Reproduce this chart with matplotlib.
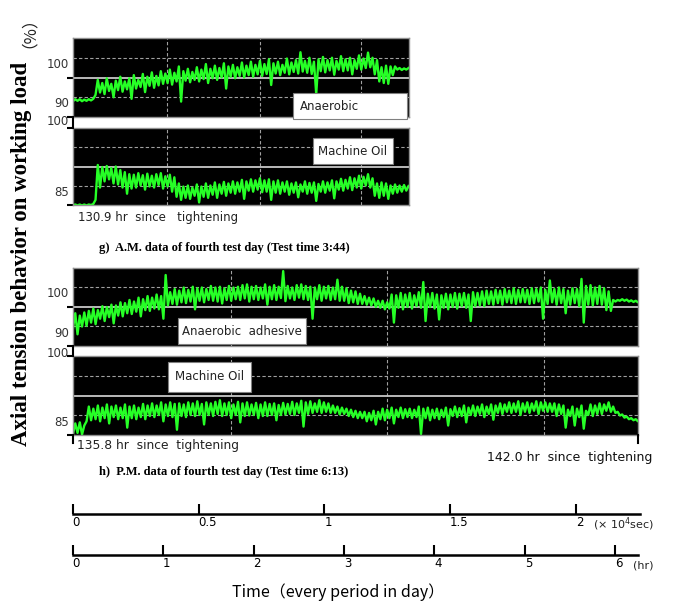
import matplotlib.pyplot as plt
import numpy as np
from matplotlib.patches import Rectangle
from matplotlib.lines import Line2D

W, H = 678, 603
dt = 0.05  # hr between read-off samples

# A.M. (g), % of working load: upper / lower edge of the noisy trace
g_anaerobic_hi = [94.5, 94.5, 94.4, 94.5, 94.6,
                  99.4, 98.6, 99.8, 98.4, 99.2, 100.2, 99.0, 99.8, 100.6, 99.4, 100.9, 100.2, 101.3, 100.4, 101.6, 101.0,
                  102.0, 101.2, 102.8, 101.6, 102.2, 101.4, 102.6, 102.0, 103.4, 102.2, 103.0, 102.4, 103.6, 102.8, 103.2, 102.6, 103.8, 103.0, 104.0, 103.2,
                  104.2, 103.4, 104.6, 103.6, 104.0, 103.2, 104.8, 103.8, 104.4, 106.4, 104.2, 105.0, 104.0, 104.6, 105.2, 104.4, 105.0, 104.2, 105.4, 104.6,
                  105.0, 104.4, 105.6, 104.8, 106.3, 105.0, 104.4, 102.6, 103.0, 102.8, 102.8, 102.4, 102.3, 102.4]
g_anaerobic_lo = [94.0, 94.1, 94.0, 94.1, 94.2,
                  95.6, 96.2, 95.8, 96.6, 95.0, 96.8, 96.4, 97.0, 94.6, 97.2, 97.6, 96.3, 97.9, 97.4, 98.0, 98.4,
                  98.6, 98.2, 99.0, 93.9, 99.2, 98.8, 99.4, 99.0, 99.6, 98.6, 99.8, 99.4, 100.0, 97.2, 100.2, 99.8, 100.4, 100.0, 100.6, 100.2,
                  100.8, 100.4, 100.9, 98.1, 101.0, 100.6, 101.2, 100.8, 101.4, 101.0, 101.5, 101.2, 100.9, 95.8, 101.6, 101.3, 101.8, 100.7, 102.0, 101.6,
                  101.8, 100.8, 102.2, 102.0, 102.4, 102.6, 100.8, 99.0, 98.6, 98.4, 100.6, 102.0, 101.9, 102.0]
g_oil_hi = [85.1, 85.1, 85.1, 85.1, 85.2,
            92.8, 92.4, 92.6, 92.2, 92.5, 91.8, 91.4, 91.0, 90.9, 91.2, 90.8, 91.1, 90.7, 91.0, 91.2, 90.6,
            90.9, 90.4, 89.2, 88.6, 88.8, 88.4, 89.0, 88.6, 89.2, 88.8, 89.4, 89.0, 89.5, 89.2, 89.6, 89.4, 89.9, 89.6, 90.0, 89.8,
            90.2, 89.8, 90.0, 89.6, 89.8, 89.4, 89.6, 89.2, 89.4, 89.0, 89.6, 89.3, 89.4, 89.1, 89.6, 89.4, 89.8, 89.6, 90.1, 89.9,
            90.4, 90.2, 90.7, 90.5, 91.0, 90.2, 89.2, 89.4, 89.2, 88.8, 89.0, 88.8, 88.9, 88.7]
g_oil_lo = [84.9, 84.9, 84.9, 84.9, 85.0,
            86.0, 88.4, 89.6, 90.0, 89.2, 89.0, 88.4, 87.2, 88.2, 88.4, 88.8, 88.0, 88.6, 88.4, 88.9, 88.2,
            88.6, 87.6, 86.6, 86.0, 86.4, 86.2, 86.8, 85.5, 86.6, 86.4, 87.0, 86.4, 87.2, 86.8, 87.4, 87.2, 87.6, 86.2, 87.8, 87.6,
            88.0, 87.5, 87.6, 86.0, 87.4, 87.2, 87.6, 87.0, 87.4, 86.5, 87.6, 87.2, 87.4, 85.8, 87.6, 87.4, 87.8, 86.3, 88.0, 87.8,
            88.2, 87.9, 88.4, 88.2, 88.8, 88.4, 86.8, 86.4, 86.8, 86.2, 87.2, 87.4, 87.6, 87.8]

# P.M. (h)
h_anaerobic_hi = [98.4, 97.8, 98.6, 99.0, 99.6, 99.2, 100.2, 100.0, 100.6, 100.4, 101.2, 101.0, 101.8, 101.4, 102.4, 102.0, 102.8, 102.4, 103.2, 102.8,
                  108.2, 103.8, 104.6, 104.2, 105.0, 104.4, 105.2, 104.8, 105.0, 104.6, 105.4, 105.0, 105.2, 104.8, 105.4, 105.0, 105.2, 105.6, 105.8, 105.2,
                  105.4, 105.0, 105.8, 105.2, 105.6, 105.2, 109.2, 105.4, 105.0, 105.6, 105.8, 105.4, 105.2, 105.0, 105.6, 105.2, 105.4, 105.0, 107.0, 105.2,
                  104.8, 104.2, 104.0, 103.4, 102.8, 102.4, 102.2, 101.6, 101.6, 101.2, 103.2, 103.0, 103.6, 103.2, 103.6, 103.0, 103.8, 106.4, 103.4, 103.6,
                  103.2, 103.0, 103.4, 103.2, 103.6, 103.4, 103.6, 103.2, 103.8, 103.6, 104.0, 104.2, 104.0, 104.4, 104.2, 104.6, 104.2, 104.8, 104.4, 104.6,
                  104.4, 104.8, 104.6, 105.0, 104.4, 106.8, 104.6, 105.0, 104.6, 104.2, 104.8, 104.6, 107.2, 105.4, 105.6, 105.0, 105.4, 104.8, 104.0, 101.8,
                  101.8, 102.0, 101.9, 101.7, 101.6, 101.5]
h_anaerobic_lo = [94.6, 93.0, 95.0, 95.2, 96.0, 95.6, 97.0, 96.4, 97.4, 95.8, 97.8, 97.6, 98.4, 98.2, 98.8, 97.6, 99.2, 99.0, 99.6, 99.4,
                  97.0, 100.4, 100.8, 100.6, 101.2, 101.0, 101.4, 99.4, 101.6, 101.2, 101.8, 101.6, 101.4, 100.9, 101.8, 101.6, 102.0, 101.8, 102.2, 101.4,
                  102.0, 101.8, 102.2, 100.6, 102.0, 101.8, 102.3, 101.5, 102.2, 101.8, 102.4, 102.0, 101.8, 97.0, 102.0, 101.6, 102.2, 101.8, 102.0, 101.6,
                  101.6, 101.0, 101.2, 100.8, 100.8, 100.6, 100.4, 100.0, 99.8, 99.4, 99.6, 96.0, 99.8, 99.4, 100.0, 99.6, 100.2, 99.8, 96.4, 100.0,
                  99.6, 96.8, 99.8, 99.4, 100.0, 99.6, 100.2, 99.8, 96.4, 100.2, 100.4, 100.2, 100.8, 100.6, 101.0, 100.6, 101.2, 101.0, 100.8, 101.2,
                  101.2, 100.8, 101.0, 101.4, 97.0, 100.8, 101.2, 100.6, 101.0, 98.4, 100.6, 101.0, 100.2, 96.0, 100.6, 100.4, 100.8, 100.6, 99.2, 99.0,
                  101.4, 101.6, 101.6, 101.4, 101.3, 101.2]
h_oil_hi = [87.2, 87.4, 86.8, 90.4, 90.0, 90.6, 90.2, 90.8, 90.4, 90.6, 90.2, 90.8, 90.4, 90.6, 90.2, 90.9, 90.6, 91.0, 90.6, 91.2,
            90.8, 91.2, 90.9, 91.0, 90.8, 91.2, 91.0, 91.4, 90.9, 91.2, 91.0, 91.3, 91.6, 91.0, 91.2, 90.8, 91.3, 91.0, 91.2, 90.8,
            91.1, 90.8, 91.2, 90.9, 91.0, 90.7, 91.1, 90.9, 91.3, 91.0, 91.5, 91.2, 91.4, 91.0, 91.6, 91.2, 91.0, 90.6, 90.4, 90.2,
            90.0, 89.8, 89.6, 89.4, 89.4, 89.2, 89.6, 89.4, 90.0, 89.8, 90.2, 89.8, 90.2, 89.9, 90.0, 89.8, 90.4, 90.0, 90.2, 89.8,
            90.0, 89.8, 90.2, 89.9, 90.4, 90.1, 90.6, 90.2, 90.6, 90.4, 90.8, 90.4, 90.8, 90.6, 91.0, 90.8, 91.2, 91.0, 91.4, 91.0,
            91.2, 91.0, 91.4, 91.2, 91.2, 91.0, 91.0, 90.8, 90.6, 89.8, 90.4, 90.0, 90.6, 89.6, 90.8, 90.6, 91.0, 90.8, 91.2, 90.4,
            89.4, 88.9, 88.5, 88.2, 88.0, 87.8]
h_oil_lo = [85.2, 85.4, 85.1, 87.6, 87.8, 88.0, 87.6, 88.2, 87.2, 88.4, 88.0, 88.2, 86.4, 88.2, 88.0, 88.4, 88.0, 88.6, 88.4, 88.8,
            87.6, 88.6, 88.4, 86.0, 88.6, 88.4, 88.8, 88.6, 88.8, 87.0, 88.8, 88.6, 89.0, 88.6, 88.8, 88.2, 88.8, 87.4, 88.6, 88.7,
            88.8, 88.2, 88.6, 88.6, 88.8, 87.8, 88.8, 88.9, 89.0, 88.8, 89.2, 86.6, 89.0, 89.2, 89.4, 89.2, 89.4, 89.2, 89.2, 88.9,
            89.0, 88.6, 88.4, 88.2, 88.2, 87.6, 87.8, 87.0, 88.0, 87.8, 88.2, 87.2, 88.4, 88.2, 88.4, 88.2, 88.4, 85.2, 88.2, 87.8,
            88.2, 88.0, 88.4, 86.8, 88.6, 88.4, 88.6, 87.4, 88.8, 88.6, 89.0, 88.4, 89.0, 87.9, 89.2, 89.0, 89.4, 89.2, 89.4, 88.8,
            89.4, 89.2, 89.6, 89.0, 89.6, 89.4, 89.4, 88.6, 89.0, 86.4, 88.6, 86.8, 88.4, 86.2, 88.8, 88.6, 89.0, 89.0, 89.6, 89.4,
            89.2, 88.7, 88.3, 88.0, 87.8, 87.6]

sec_ticks = [0, 0.5, 1, 1.5, 2]
hr_ticks = [0, 1, 2, 3, 4, 5, 6]


def rect(x0, y0, x1, y1):
    return [x0 / W, 1 - y1 / H, (x1 - x0) / W, (y1 - y0) / H]


def fx(px):
    return px / W


def fy(py):
    return 1 - py / H


fig = plt.figure(figsize=(W / 100, H / 100), dpi=100)


def panel(box, lo, hi, xmax, ylim, vgrid, hgrid, ticks, labels, lab_off):
    ax = fig.add_axes(rect(*box))
    ax.set_facecolor('black')
    t = np.arange(len(lo)) * dt
    for v in vgrid:
        ax.axvline(v, color='#a0a0a0', lw=0.8, ls=(0, (3, 2)))
    ax.axhline(hgrid[0], color='#a0a0a0', lw=0.8, ls=(0, (3, 2)))
    ax.axhline(hgrid[1], color='#c8c8c8', lw=1.3)
    ax.axhline(hgrid[2], color='#a0a0a0', lw=0.8, ls=(0, (3, 2)))
    # alternate lower and upper edge readings to draw the dense scope trace
    xs = np.column_stack([t, t + dt / 2]).ravel()
    ys = np.column_stack([lo, hi]).ravel()
    ax.plot(xs, ys, color='#26ff26', lw=1.7)
    ax.set_xlim(0, xmax)
    ax.set_ylim(*ylim)
    ax.set_xticks([])
    ax.set_yticks(ticks)
    ax.set_yticklabels([])
    ax.tick_params(axis='y', direction='out', length=4, width=1.5, color='black')
    for s in ax.spines.values():
        s.set_color('#909090')
        s.set_linewidth(1)
    for v, lab, off in zip(ticks, labels, lab_off):
        ax.annotate(lab, xy=(0, v), xycoords=('axes fraction', 'data'),
                    xytext=(-3, off), textcoords='offset points',
                    ha='right', va='center', fontsize=8.5, color='#333333')
    return ax


def label_box(x0, y0, x1, y1, text, ha='center'):
    fig.add_artist(Rectangle((fx(x0), fy(y1)), (x1 - x0) / W, (y1 - y0) / H,
                             transform=fig.transFigure, facecolor='white',
                             edgecolor='#808080', lw=0.8, zorder=5))
    tx = (x0 + x1) / 2 if ha == 'center' else x0 + 7
    fig.text(fx(tx), fy((y0 + y1) / 2), text, ha=ha, va='center',
             fontsize=8.5, color='#222222', zorder=6)


hgrid_top = [95, 100, 105]
hgrid_bot = [88.75, 92.5, 96.25]

panel((73, 38, 409, 117), g_anaerobic_lo, g_anaerobic_hi, 3.73, (90, 110), [1.04, 2.08, 3.20], hgrid_top,
      [90, 100], ['90', '100'], [10, 9.5])
panel((73, 128, 409, 205), g_oil_lo, g_oil_hi, 3.73, (85, 100), [1.04, 2.08, 3.20], hgrid_bot,
      [85, 100], ['85', '100'], [9, 4.5])
panel((73, 268, 638, 346), h_anaerobic_lo, h_anaerobic_hi, 6.25, (90, 110), [1.75, 3.47, 5.21], hgrid_top,
      [90, 100], ['90', '100'], [9, 9.5])
panel((73, 356, 638, 435), h_oil_lo, h_oil_hi, 6.25, (85, 100), [1.75, 3.47, 5.21], hgrid_bot,
      [85, 100], ['85', '100'], [9, 1.5])

label_box(293, 93, 407, 119, 'Anaerobic', ha='left')
label_box(313, 138, 393, 164, 'Machine Oil')
label_box(178, 318, 306, 344, 'Anaerobic  adhesive')
label_box(168, 362, 251, 392, 'Machine Oil')

for (xa, ya, yb) in [(73, 117, 128), (73, 346, 356), (73, 435, 443), (638, 435, 443)]:
    fig.add_artist(Line2D([fx(xa), fx(xa)], [fy(ya), fy(yb)], color='black', lw=1.5))

fig.text(fx(78), fy(218), '130.9 hr  since   tightening', ha='left', va='center', fontsize=8.5, color='#222222')
fig.text(fx(77), fy(446), '135.8 hr  since  tightening', ha='left', va='center', fontsize=8.8, color='#222222')
fig.text(fx(652), fy(458), '142.0 hr  since  tightening', ha='right', va='center', fontsize=9, color='#111111')

fig.text(fx(99), fy(248), 'g)  A.M. data of fourth test day (Test time 3:44)', ha='left', va='center',
         fontsize=9, fontweight='bold', family='Liberation Serif')
fig.text(fx(99), fy(472), 'h)  P.M. data of fourth test day (Test time 6:13)', ha='left', va='center',
         fontsize=9, fontweight='bold', family='Liberation Serif')

fig.text(fx(22), fy(254), 'Axial tension behavior on working load', rotation=90,
         ha='center', va='center', fontsize=16.5, fontweight='bold', family='Liberation Serif')
fig.text(fx(20), fy(24), '\uff08%\uff09', rotation=90, ha='center', va='center', fontsize=12,
         family=['Noto Sans CJK JP', 'DejaVu Sans'], color='#222222')

# time axes
sec_max = (640 - 72.7) / 251.6
hr_max = (638 - 72.7) / 90.4
for (y_line, x1, xmax, ticks, unit, ux) in [(514, 640, sec_max, sec_ticks, '(\u00d7 10$^4$sec)', 593),
                                           (555, 638, hr_max, hr_ticks, '(hr)', 633)]:
    ax = fig.add_axes(rect(72.7, y_line - 12, x1, y_line))
    ax.set_xlim(0, xmax)
    for s in ['top', 'left', 'right']:
        ax.spines[s].set_visible(False)
    ax.spines['bottom'].set_linewidth(1.8)
    ax.set_yticks([])
    ax.patch.set_alpha(0)
    ax.set_xticks(ticks)
    ax.set_xticklabels([str(v) for v in ticks])
    ax.tick_params(axis='x', direction='in', length=7.5, width=1.5, pad=1.5, labelsize=8.5)
    for lbl in ax.get_xticklabels():
        lbl.set_ha('left')
    fig.text(fx(ux), fy(y_line + 10), unit, ha='left', va='center', fontsize=8, color='#222222')

fig.text(fx(338), fy(592), 'Time\uff08every period in day\uff09', ha='center', va='center', fontsize=11.5,
         family=['Noto Sans CJK JP', 'DejaVu Sans'])

fig.savefig('out.png', dpi=100)
